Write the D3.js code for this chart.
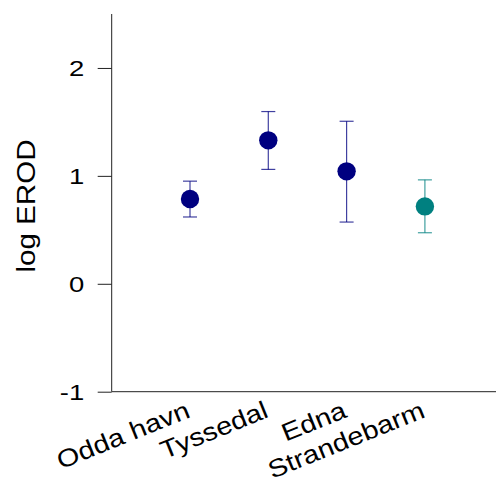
<!DOCTYPE html>
<html><head><meta charset="utf-8">
<script src="https://cdn.jsdelivr.net/npm/d3@7"></script>
<style>body{margin:0;background:#fff}svg{display:block}text{font-family:"Liberation Sans",Arial,sans-serif}</style>
</head><body>
<svg id="c" width="496" height="482"></svg>
<script>
const categories = ["Odda havn","Tyssedal","Edna","Strandebarm"];
const means = [0.786, 1.329, 1.042, 0.717];
const upper = [0.951, 1.596, 1.506, 0.963];
const lower = [0.619, 1.060, 0.572, 0.473];
const colors = ["#000080","#000080","#000080","#008080"];
const yTicks = [-1, 0, 1, 2];

const svg = d3.select("#c");
const x0 = 111.7, yTop = 14, yBot = 391.7;
const y = d3.scaleLinear().domain([-1, 2.5]).range([yBot, yTop]);
const x = d3.scalePoint().domain(["", ...categories, " "]).range([x0, x0 + 78.3*5]);

// y axis ticks via d3 axis, labels drawn with horizontal stretch
const ya = svg.append("g").attr("transform", `translate(${x0},0)`)
  .call(d3.axisLeft(y).tickValues(yTicks).tickSize(14).tickFormat(""));
ya.select(".domain").remove();
ya.selectAll(".tick line").attr("stroke", "#222");
svg.selectAll(".yl").data(yTicks).enter().append("text")
  .attr("class","yl")
  .attr("transform", d => `translate(${x0-27.5},${y(d)}) scale(1.22,1)`)
  .attr("dy","0.36em").attr("text-anchor","end").attr("font-size",22.5).attr("fill","#000")
  .text(d => String(d));
svg.append("line").attr("x1", x0).attr("x2", x0).attr("y1", yTop).attr("y2", yBot).attr("stroke", "#222");
// x axis line
svg.append("line").attr("x1", x0).attr("x2", 496).attr("y1", yBot).attr("y2", yBot).attr("stroke", "#222");

// x labels
svg.selectAll(".xl").data(categories).enter().append("text")
  .attr("class","xl")
  .attr("transform", d => `translate(${x(d)+1.5},${yBot+25}) rotate(-22) scale(1.15,1)`)
  .attr("text-anchor","end").attr("font-size", 25).attr("fill","#000").text(d => d);

// y title
svg.append("text").attr("transform", `translate(35,206) rotate(-90) scale(1.16,1)`)
  .attr("text-anchor","middle").attr("font-size", 25.5).attr("fill","#000").text("log EROD");

// error bars
const g = svg.append("g");
categories.forEach((c,i) => {
  const cx = x(c);
  const col = colors[i];
  const eb = g.append("g").attr("stroke", col).attr("stroke-width", 1.2).attr("stroke-opacity", 0.75);
  eb.append("line").attr("x1",cx).attr("x2",cx).attr("y1",y(upper[i])).attr("y2",y(lower[i]));
  eb.append("line").attr("x1",cx-7).attr("x2",cx+7).attr("y1",y(upper[i])).attr("y2",y(upper[i]));
  eb.append("line").attr("x1",cx-7).attr("x2",cx+7).attr("y1",y(lower[i])).attr("y2",y(lower[i]));
  g.append("circle").attr("cx",cx).attr("cy",y(means[i])).attr("r",9.2).attr("fill",col);
});
</script>
</body></html>
